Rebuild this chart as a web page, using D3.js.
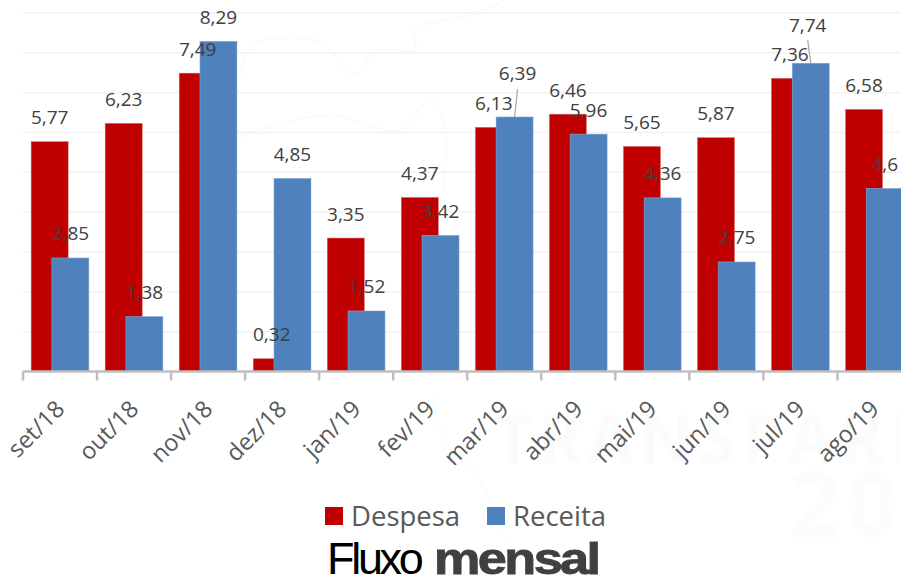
<!DOCTYPE html>
<html>
<head>
<meta charset="utf-8">
<script src="https://cdn.jsdelivr.net/npm/d3@7"></script>
<style>
  html, body { margin: 0; padding: 0; background: #fff; }
  svg { display: block; }
  text { font-family: "Open Sans", sans-serif; }
</style>
</head>
<body>
<svg></svg>
<script>
// Dados
const meses = ["set/18", "out/18", "nov/18", "dez/18", "jan/19", "fev/19", "mar/19", "abr/19", "mai/19", "jun/19", "jul/19", "ago/19"];
const despesa = [5.77, 6.23, 7.49, 0.32, 3.35, 4.37, 6.13, 6.46, 5.65, 5.87, 7.36, 6.58];
const receita = [2.85, 1.38, 8.29, 4.85, 1.52, 3.42, 6.39, 5.96, 4.36, 2.75, 7.74, 4.6];
const grade = [1, 2, 3, 4, 5, 6, 7, 8, 9];

// Contorno do mapa da marca d'água (bem aproximado)
const mapaNorte = [[240, 75], [252, 45], [320, 42], [355, 75], [375, 50], [415, 50], [415, 30], [470, 15], [505, 0]];
const mapaMeio = [[240, 137], [270, 127], [330, 115], [400, 130], [430, 100], [445, 130], [443, 190]];
const mapaSul = [[432, 395], [445, 440], [480, 480], [500, 530], [530, 570]];

const width = 901;
const height = 577;
const plot = { left: 23, right: 911.4, top: 13, bottom: 371.5 };

const fmt = v => String(v).replace(".", ",");

const svg = d3.select("svg")
    .attr("width", width)
    .attr("height", height)
    .attr("viewBox", [0, 0, width, height]);

const x = d3.scaleBand().domain(meses).range([plot.left, plot.right]);
const y = d3.scaleLinear().domain([0, 9]).range([plot.bottom, plot.top]);

const barW = x.bandwidth() * 0.5;
const redX = m => x(m) + x.bandwidth() * 0.11;
const blueX = m => x(m) + x.bandwidth() * 0.39;

// Marca d'água bem clara atrás do gráfico
const wm = svg.append("g").attr("fill", "#fbfbfb");
wm.append("text").attr("x", 494).attr("y", 463)
    .attr("font-size", 66).attr("font-weight", 700).attr("letter-spacing", 6).text("TRANSPARENCIA");
wm.append("text").attr("x", 788).attr("y", 537)
    .attr("font-size", 91).attr("font-weight", 700).attr("letter-spacing", 6).attr("fill", "#fcfcfc").text("20");
const linhaMapa = d3.line().curve(d3.curveCatmullRom);
svg.append("g").selectAll("path")
    .data([mapaNorte, mapaMeio, mapaSul])
    .join("path")
    .attr("d", linhaMapa)
    .attr("fill", "none")
    .attr("stroke", "#fafafa")
    .attr("stroke-width", 1.5);

// Linhas de grade
svg.append("g").selectAll("line")
    .data(grade)
    .join("line")
    .attr("x1", plot.left)
    .attr("x2", width)
    .attr("y1", d => y(d))
    .attr("y2", d => y(d))
    .attr("stroke", "#f2f2f2")
    .attr("stroke-width", 1.5);

// Barras
svg.append("g").selectAll("rect")
    .data(meses)
    .join("rect")
    .attr("x", redX)
    .attr("y", (m, i) => y(despesa[i]))
    .attr("width", barW)
    .attr("height", (m, i) => y(0) - y(despesa[i]))
    .attr("fill", "#c00000")
    .attr("stroke", "#d9686a")
    .attr("stroke-width", 0.5);

svg.append("g").selectAll("rect")
    .data(meses)
    .join("rect")
    .attr("x", blueX)
    .attr("y", (m, i) => y(receita[i]))
    .attr("width", barW)
    .attr("height", (m, i) => y(0) - y(receita[i]))
    .attr("fill", "#4f81bd")
    .attr("stroke", "#8fb0dc")
    .attr("stroke-width", 0.5);

// Eixo X
const axis = svg.append("g")
    .attr("transform", `translate(0,${plot.bottom})`);
axis.append("line")
    .attr("x1", plot.left).attr("x2", width)
    .attr("stroke", "#bfbfbf").attr("stroke-width", 2.5);
axis.selectAll(".tick")
    .data(meses)
    .join("line")
    .attr("class", "tick")
    .attr("x1", m => x(m)).attr("x2", m => x(m))
    .attr("y1", 0).attr("y2", 9)
    .attr("stroke", "#bfbfbf").attr("stroke-width", 2.5);
axis.selectAll(".mes")
    .data(meses)
    .join("text")
    .attr("class", "mes")
    .attr("transform", m => `translate(${x(m) + x.bandwidth() / 2 + 6},39) rotate(-45)`)
    .attr("text-anchor", "end")
    .attr("font-size", 23.5)
    .attr("fill", "#595959")
    .text(m => m);

// Rótulos de valor
const labelSize = 19;
const rotulos = (vals, bx, g) => g.selectAll("text")
    .data(meses)
    .join("text")
    .attr("x", m => bx(m) + barW / 2)
    .attr("y", (m, i) => y(vals[i]) - 17.5)
    .attr("text-anchor", "middle")
    .attr("font-size", labelSize)
    .attr("fill", "#404040")
    .text((m, i) => fmt(vals[i]));

rotulos(despesa, redX, svg.append("g"));
const lblReceita = svg.append("g");
rotulos(receita, blueX, lblReceita);

// Dois rótulos de receita foram afastados no original, com linha de chamada
const afastados = { "mar/19": [3, 19], "jul/19": [-3, 14] };
lblReceita.selectAll("text")
    .filter(m => afastados[m])
    .attr("x", m => blueX(m) + barW / 2 + afastados[m][0])
    .attr("y", m => y(receita[meses.indexOf(m)]) - 17.5 - afastados[m][1]);
svg.append("g").selectAll("line")
    .data(Object.keys(afastados))
    .join("line")
    .attr("x1", m => blueX(m) + barW / 2)
    .attr("y1", m => y(receita[meses.indexOf(m)]))
    .attr("x2", m => blueX(m) + barW / 2 + afastados[m][0])
    .attr("y2", m => y(receita[meses.indexOf(m)]) - 9 - afastados[m][1])
    .attr("stroke", "#a6a6a6")
    .attr("stroke-width", 1.2);

// Legenda
const legenda = svg.append("g");
[["Despesa", "#c00000", 325], ["Receita", "#4f81bd", 487]].forEach(([nome, cor, lx]) => {
    legenda.append("rect").attr("x", lx).attr("y", 507).attr("width", 18).attr("height", 18).attr("fill", cor);
    legenda.append("text").attr("x", lx + 26).attr("y", 525.5)
        .attr("font-size", 27.5).attr("fill", "#595959").text(nome);
});

// Título
svg.append("text").attr("x", 327).attr("y", 574)
    .attr("font-size", 45)
    .attr("letter-spacing", -3.3)
    .attr("fill", "#000")
    .style("font-family", "'Liberation Sans', Arial, sans-serif")
    .text("Fluxo");
svg.append("text")
    .attr("transform", "translate(434,574) scale(1.16,1)")
    .attr("font-size", 45)
    .attr("font-weight", 700)
    .attr("letter-spacing", -2.2)
    .attr("fill", "#404040")
    .attr("stroke", "#404040")
    .attr("stroke-width", 0.9)
    .style("font-family", "'Liberation Sans', Arial, sans-serif")
    .text("mensal");
</script>
</body>
</html>
